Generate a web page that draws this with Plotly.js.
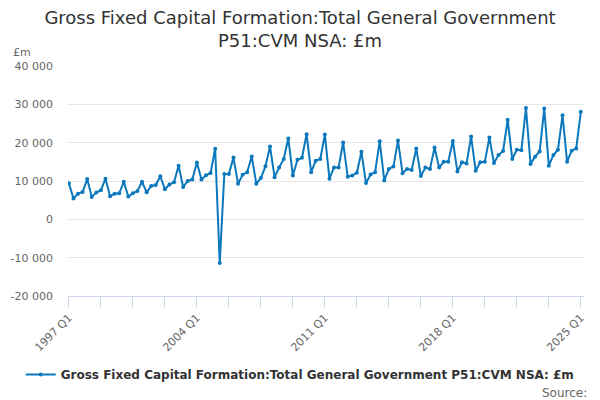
<!DOCTYPE html>
<html>
<head>
<meta charset="utf-8">
<script src="https://cdn.plot.ly/plotly-3.0.1.min.js"></script>
<style>html,body{margin:0;padding:0;background:#fff;}#chart{width:600px;height:400px;}</style>
</head>
<body>
<div id="chart"></div>
<script>
var startYear = 1997;
var endYear = 2025;

var values1997_2005 = [
  9400, 5450, 6700, 7150,
  10500, 5850, 7000, 7600,
  10600, 6050, 6650, 6800,
  9800, 5950, 6800, 7400,
  9800, 7050, 8700, 8950,
  11250, 7850, 9100, 9650,
  14000, 8450, 10000, 10400,
  14850, 10400, 11500, 12100,
  18400, -11400
];
var values2005_2015 = [
  11800, 11850,
  16100, 9300, 11600, 12300,
  16400, 9300, 10750, 13850,
  19000, 11000, 13500, 15750,
  21100, 11450, 15550, 16050,
  22200, 12300, 15300, 15750,
  22100, 10600, 13500, 13500,
  20050, 11100, 11450, 12150,
  17600, 9450, 11700, 12300,
  20400, 10150, 13150, 13750,
  20550, 12050, 13150, 12900
];
var values2016_2025 = [
  18500, 11300, 13500, 13150,
  18750, 13500, 15000, 15000,
  20450, 12450, 14900, 14550,
  21600, 12650, 14900, 15000,
  21350, 14700, 16750, 17850,
  25950, 15750, 18150, 18050,
  29050, 14450, 16350, 17700,
  28900, 14000, 16750, 18150,
  27150, 15050, 17900, 18500,
  28050
];
var values = values1997_2005.concat(values2005_2015, values2016_2025);

var quarters = [];
for (var y = startYear; y <= endYear; y++) {
  for (var q = 1; q <= 4; q++) {
    if (y === endYear && q > 1) break;
    quarters.push(y + ' Q' + q);
  }
}

var xTickLabelYears = ['1997 Q1', '2004 Q1', '2011 Q1', '2018 Q1', '2025 Q1'];
var yTickVals = [-20000, -10000, 0, 10000, 20000, 30000, 40000];
var yTickText = ['-20 000', '-10 000', '0', '10 000', '20 000', '30 000', '40 000'];

var xIdx = quarters.map(function(_, i){ return i; });
var xTickVals = [], xTickText = [];
for (var i = 0; i < quarters.length; i += 7) {
  xTickVals.push(i);
  xTickText.push(xTickLabelYears.indexOf(quarters[i]) >= 0 ? quarters[i] : '');
}

var seriesName = 'Gross Fixed Capital Formation:Total General Government P51:CVM NSA: £m';
var color = '#0b78bd';

var trace = {
  x: xIdx,
  y: values,
  type: 'scatter',
  mode: 'lines+markers',
  name: seriesName,
  line: {color: color, width: 2},
  marker: {color: color, size: 4},
  hoverinfo: 'skip',
  showlegend: true
};

var font = "'DejaVu Sans', sans-serif";
var layout = {
  width: 600, height: 400,
  paper_bgcolor: '#fff', plot_bgcolor: '#fff',
  margin: {l: 68, r: 16, t: 66, b: 103},
  font: {family: font, color: '#666', size: 11},
  title: {
    text: 'Gross Fixed Capital Formation:Total General Government<br>P51:CVM NSA: £m',
    font: {family: font, size: 18, color: '#333'},
    x: 0.5, xanchor: 'center', y: 0.94, yanchor: 'middle'
  },
  xaxis: {
    range: [-0.2, 112.7],
    tickvals: xTickVals,
    ticktext: xTickText,
    tickangle: -45,
    ticks: 'outside', ticklen: 10, tickcolor: '#ccd6eb', tickwidth: 1,
    showline: true, linecolor: '#ccd6eb', linewidth: 1,
    showgrid: false, zeroline: false,
    tickfont: {family: font, size: 11, color: '#666'},
    fixedrange: true
  },
  yaxis: {
    range: [-20000, 40000],
    tickvals: yTickVals,
    ticktext: yTickText,
    showgrid: true, gridcolor: '#e6e6e6', gridwidth: 1,
    zeroline: false, showline: false,
    ticks: '', ticklabelstandoff: 14,
    tickfont: {family: font, size: 11, color: '#666'},
    fixedrange: true
  },
  legend: {
    orientation: 'h', x: 0.45, xanchor: 'center', y: -0.335, yanchor: 'middle',
    font: {family: font, size: 12, color: '#333', weight: 'bold'},
    itemwidth: 20
  },
  annotations: [
    {text: '£m', xref: 'paper', yref: 'paper', x: -0.11, y: 1.06, xanchor: 'left', yanchor: 'middle',
     showarrow: false, font: {family: font, size: 11, color: '#666'}},
    {text: 'Source:', xref: 'paper', yref: 'paper', x: 1.01, y: -0.42, xanchor: 'right', yanchor: 'middle',
     showarrow: false, font: {family: font, size: 12, color: '#666'}}
  ],
  showlegend: true
};

Plotly.newPlot('chart', [trace], layout, {displayModeBar: false, staticPlot: true});
</script>
</body>
</html>
